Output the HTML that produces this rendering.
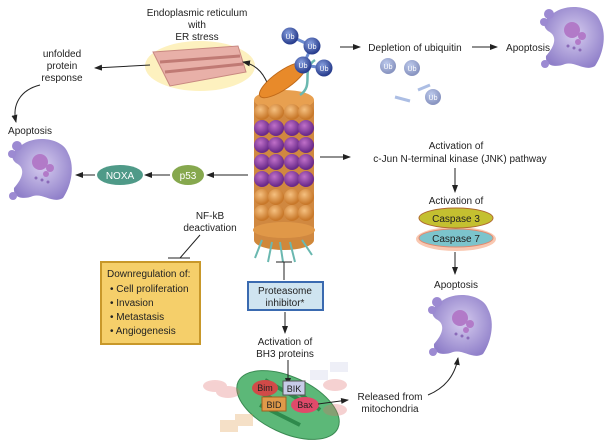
<!DOCTYPE html>
<html><head><style>
body{margin:0;background:#fff;}
svg{display:block;font-family:"Liberation Sans",sans-serif;}
</style></head><body>
<svg width="614" height="445" viewBox="0 0 614 445" xmlns="http://www.w3.org/2000/svg">
<defs>
<marker id="a" markerWidth="8" markerHeight="6" refX="7" refY="3" orient="auto"><path d="M0,0 L8,3 L0,6z" fill="#222"/></marker>
<radialGradient id="cell" cx="50%" cy="45%" r="60%"><stop offset="0" stop-color="#d6ccef"/><stop offset="1" stop-color="#8f7fc9"/></radialGradient>
<radialGradient id="ub" cx="40%" cy="35%" r="60%"><stop offset="0" stop-color="#8aa2e0"/><stop offset="1" stop-color="#2a3f8f"/></radialGradient>
<radialGradient id="pb" cx="40%" cy="35%" r="60%"><stop offset="0" stop-color="#c070c8"/><stop offset="1" stop-color="#6a2a8a"/></radialGradient>
<radialGradient id="ob" cx="40%" cy="35%" r="60%"><stop offset="0" stop-color="#f5c080"/><stop offset="1" stop-color="#c8782a"/></radialGradient>
<g id="row"><circle cx="262" cy="0" r="8"/><circle cx="276" cy="0" r="8"/><circle cx="292" cy="0" r="8"/><circle cx="306" cy="0" r="8"/></g>
<g id="apo">
<path d="M10,10 C25,-5 55,0 60,15 C68,30 62,50 55,60 C45,66 35,55 25,58 C15,62 5,60 6,50 C15,40 18,30 8,25 C2,20 4,14 10,10z" fill="url(#cell)"/>
<circle cx="9" cy="8" r="5" fill="#9c8ad2"/><circle cx="4" cy="16" r="4" fill="#9c8ad2"/><circle cx="5" cy="58" r="4" fill="#9c8ad2"/>
<circle cx="32" cy="24" r="8" fill="#b27ac8"/><circle cx="42" cy="30" r="4" fill="#b27ac8"/><circle cx="38" cy="36" r="3" fill="#b27ac8"/>
<circle cx="28" cy="40" r="1.5" fill="#8a6ab8"/><circle cx="34" cy="42" r="1.5" fill="#8a6ab8"/><circle cx="40" cy="44" r="1.5" fill="#8a6ab8"/>
</g>
</defs>
<g font-size="10" fill="#222" text-anchor="middle">
<text x="197" y="16">Endoplasmic reticulum</text>
<text x="197" y="28">with</text>
<text x="197" y="40">ER stress</text>
<ellipse cx="200" cy="66" rx="55" ry="25" fill="#fdf0b8" opacity="0.9"/>
<path d="M153,52 L238,46 L246,72 L170,86 Z" fill="#e8b0a8" stroke="#c88880"/>
<path d="M160,62 L240,56 M165,72 L243,64" stroke="#c07a74" stroke-width="3"/>
<text x="62" y="57">unfolded</text><text x="62" y="69">protein</text><text x="62" y="81">response</text>
<path d="M150,65 L95,68" stroke="#222" marker-end="url(#a)"/>
<path d="M270,90 C265,75 258,65 243,62" fill="none" stroke="#222" marker-end="url(#a)"/>
<path d="M40,85 C20,90 12,105 16,122" fill="none" stroke="#222" marker-end="url(#a)"/>
<text x="30" y="134">Apoptosis</text>
<use href="#apo" x="8" y="138"/>
<ellipse cx="120" cy="175" rx="23" ry="10" fill="#4f9a88"/><text x="120" y="179" fill="#fff">NOXA</text>
<ellipse cx="188" cy="175" rx="16" ry="10" fill="#86a84e"/><text x="188" y="179" fill="#fff">p53</text>
<path d="M248,175 L207,175" stroke="#222" marker-end="url(#a)"/>
<path d="M170,175 L145,175" stroke="#222" marker-end="url(#a)"/>
<path d="M95,175 L76,175" stroke="#222" marker-end="url(#a)"/>
<text x="210" y="219">NF-kB</text><text x="210" y="231">deactivation</text>
<path d="M200,235 L180,258 M168,258 L190,258" stroke="#222" fill="none"/>
<rect x="101" y="262" width="99" height="82" fill="#f5cf6a" stroke="#c8982a" stroke-width="2"/>
<g text-anchor="start"><text x="107" y="277">Downregulation of:</text>
<text x="110" y="292">• Cell proliferation</text><text x="110" y="306">• Invasion</text>
<text x="110" y="320">• Metastasis</text><text x="110" y="334">• Angiogenesis</text></g>
<g>
<ellipse cx="284" cy="240" rx="30" ry="10" fill="#d0883a"/>
<rect x="254" y="100" width="60" height="140" fill="#d08840"/>
<ellipse cx="284" cy="100" rx="30" ry="10" fill="#e8a050"/>
<use href="#row" y="112" fill="url(#ob)"/>
<use href="#row" y="128" fill="url(#pb)"/><use href="#row" y="145" fill="url(#pb)"/>
<use href="#row" y="162" fill="url(#pb)"/><use href="#row" y="179" fill="url(#pb)"/>
<use href="#row" y="197" fill="url(#ob)"/><use href="#row" y="213" fill="url(#ob)"/>
<ellipse cx="284" cy="230" rx="31" ry="8" fill="#e09848"/>
<path d="M262,240 L255,258 M272,242 L268,262 M290,242 L295,262 M302,240 L312,255 M280,242 L283,262" stroke="#6ab8b0" stroke-width="2" fill="none"/>
<ellipse cx="283" cy="80" rx="28" ry="9" transform="rotate(-35 283 80)" fill="#e88a2a" stroke="#c06a1a"/>
<path d="M300,95 C315,85 300,70 315,60" stroke="#6ab8b0" stroke-width="2.5" fill="none"/>
</g>
<g font-size="7" fill="#fff">
<path d="M290,36 L312,46 L303,65 L324,68" stroke="#6a8acf" stroke-width="3" fill="none"/>
<circle cx="290" cy="36" r="8.5" fill="url(#ub)"/><text x="290" y="39">Ub</text>
<circle cx="312" cy="46" r="8.5" fill="url(#ub)"/><text x="312" y="49">Ub</text>
<circle cx="303" cy="65" r="8.5" fill="url(#ub)"/><text x="303" y="68">Ub</text>
<circle cx="324" cy="68" r="8.5" fill="url(#ub)"/><text x="324" y="71">Ub</text>
<g opacity="0.55"><circle cx="388" cy="66" r="8" fill="url(#ub)"/><text x="388" y="69">Ub</text>
<circle cx="412" cy="68" r="8" fill="url(#ub)"/><text x="412" y="71">Ub</text>
<circle cx="433" cy="97" r="8" fill="url(#ub)"/><text x="433" y="100">Ub</text>
<path d="M395,97 L410,101 M418,90 L430,85" stroke="#6a8acf" stroke-width="3"/></g>
</g>
<path d="M340,47 L360,47" stroke="#222" marker-end="url(#a)"/>
<text x="415" y="51">Depletion of ubiquitin</text>
<path d="M472,47 L497,47" stroke="#222" marker-end="url(#a)"/>
<text x="528" y="51">Apoptosis</text>
<use href="#apo" x="540" y="6"/>
<path d="M320,157 L350,157" stroke="#222" marker-end="url(#a)"/>
<text x="456" y="149">Activation of</text>
<text x="460" y="162">c-Jun N-terminal kinase (JNK) pathway</text>
<path d="M455,168 L455,192" stroke="#222" marker-end="url(#a)"/>
<text x="456" y="204">Activation of</text>
<ellipse cx="456" cy="239" rx="40" ry="12" fill="#f6b090" opacity="0.7"/>
<ellipse cx="456" cy="218" rx="37" ry="10" fill="#c4c030" stroke="#b06a30"/><text x="456" y="222">Caspase 3</text>
<ellipse cx="456" cy="238" rx="37" ry="9" fill="#7cc4cc" stroke="#e08a70"/><text x="456" y="242">Caspase 7</text>
<path d="M455,252 L455,274" stroke="#222" marker-end="url(#a)"/>
<text x="456" y="288">Apoptosis</text>
<use href="#apo" x="428" y="294"/>
<path d="M284,262 L284,280 M276,262 L292,262" stroke="#222"/>
<rect x="248" y="282" width="75" height="28" fill="#cfe4f0" stroke="#3a6ab0" stroke-width="2"/>
<text x="285" y="294">Proteasome</text><text x="285" y="306">inhibitor*</text>
<path d="M285,312 L285,333" stroke="#222" marker-end="url(#a)"/>
<text x="285" y="345">Activation of</text><text x="285" y="357">BH3 proteins</text>
<ellipse cx="288" cy="405" rx="55" ry="28" transform="rotate(25 288 405)" fill="#5cb878" stroke="#3a8a52"/>
<path d="M255,390 L275,400 M265,380 L300,400 M290,385 L320,410 M260,405 L300,425" stroke="#2e8a4c" stroke-width="4"/>
<path d="M288,360 L288,385" stroke="#222" marker-end="url(#a)"/>
<g font-size="9">
<ellipse cx="265" cy="388" rx="13" ry="8" fill="#d04a48"/><text x="265" y="391">Bim</text>
<rect x="283" y="381" width="22" height="14" fill="#c8cce8" stroke="#555"/><text x="294" y="392">BIK</text>
<rect x="262" y="397" width="24" height="14" fill="#e09a4a" stroke="#a06020"/><text x="274" y="408">BID</text>
<ellipse cx="305" cy="405" rx="14" ry="8" fill="#e04a6a"/><text x="305" y="408">Bax</text>
<g opacity="0.3"><ellipse cx="215" cy="386" rx="12" ry="6" fill="#e06a6a"/><ellipse cx="228" cy="392" rx="12" ry="6" fill="#e06a6a"/>
<ellipse cx="335" cy="385" rx="12" ry="6" fill="#e06a6a"/><ellipse cx="335" cy="410" rx="12" ry="6" fill="#e06a6a"/>
<rect x="310" y="370" width="18" height="10" fill="#c8cce8"/><rect x="330" y="362" width="18" height="10" fill="#c8cce8"/>
<rect x="220" y="420" width="18" height="12" fill="#e09a4a"/><rect x="235" y="414" width="18" height="12" fill="#e09a4a"/></g>
</g>
<path d="M318,404 L348,400" stroke="#222" marker-end="url(#a)"/>
<text x="390" y="400">Released from</text><text x="390" y="412">mitochondria</text>
<path d="M428,395 C445,388 455,375 458,358" fill="none" stroke="#222" marker-end="url(#a)"/>
</g>
</svg>
</body></html>
